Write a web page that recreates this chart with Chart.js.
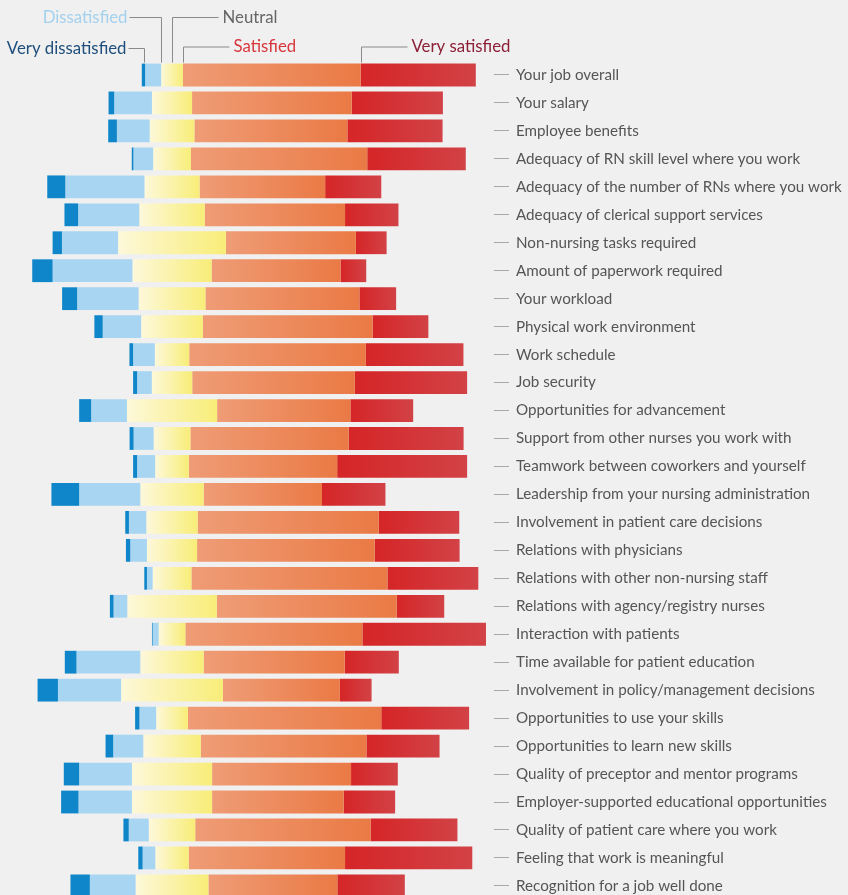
<!DOCTYPE html>
<html lang="en">
<head>
<meta charset="UTF-8">
<title>Nurse job satisfaction</title>
<script src="https://cdn.jsdelivr.net/npm/chart.js"></script>
<style>
    body { margin: 0; background: #f0f0f0; overflow: hidden; }
    #wrap { width: 848px; height: 916px; position: relative; }
</style>
</head>
<body>
<div id="wrap"><canvas id="bar-chart"></canvas></div>

<script>
    var items = [
        'Your job overall', 'Your salary', 'Employee benefits',
        'Adequacy of RN skill level where you work',
        'Adequacy of the number of RNs where you work',
        'Adequacy of clerical support services', 'Non-nursing tasks required',
        'Amount of paperwork required', 'Your workload', 'Physical work environment',
        'Work schedule', 'Job security', 'Opportunities for advancement',
        'Support from other nurses you work with',
        'Teamwork between coworkers and yourself',
        'Leadership from your nursing administration',
        'Involvement in patient care decisions', 'Relations with physicians',
        'Relations with other non-nursing staff', 'Relations with agency/registry nurses',
        'Interaction with patients', 'Time available for patient education',
        'Involvement in policy/management decisions', 'Opportunities to use your skills',
        'Opportunities to learn new skills', 'Quality of preceptor and mentor programs',
        'Employer-supported educational opportunities',
        'Quality of patient care where you work', 'Feeling that work is meaningful',
        'Recognition for a job well done'
    ];

    // percentages per answer
    var veryDissatisfied = [1.0, 1.7, 2.6, 0.5, 5.4, 4.1, 2.8, 6.1, 4.5, 2.5, 1.1, 1.2, 3.6, 1.2, 1.2,
                            8.3, 1.1, 1.3, 0.8, 1.1, 0.2, 3.5, 6.1, 1.3, 2.3, 4.6, 5.2, 1.6, 1.3, 5.8];
    var dissatisfied     = [4.8, 11.3, 9.8, 5.9, 23.7, 18.3, 16.8, 23.9, 18.4, 11.5, 6.5, 4.4, 10.7, 6.0, 5.4,
                            18.3, 5.2, 5.0, 1.7, 4.1, 1.8, 19.1, 18.9, 5.0, 9.0, 15.8, 16.0, 6.0, 3.8, 13.7];
    var neutral          = [6.5, 12.0, 13.4, 11.3, 16.5, 19.6, 32.3, 23.7, 20.0, 18.5, 10.3, 12.1, 27.0, 11.0, 10.1,
                            19.0, 15.4, 15.0, 11.6, 26.8, 8.0, 19.0, 30.5, 9.5, 17.2, 24.0, 24.0, 13.9, 10.0, 21.8];
    var satisfied        = [53.2, 47.8, 45.8, 52.8, 37.6, 42.0, 38.9, 38.6, 46.1, 50.8, 52.9, 48.7, 39.9, 47.4, 44.4,
                            35.4, 54.2, 53.2, 58.7, 53.9, 53.0, 42.2, 35.0, 57.9, 49.6, 41.6, 39.4, 52.5, 46.8, 38.6];
    var verySatisfied    = [34.5, 27.3, 28.5, 29.5, 16.8, 16.0, 9.2, 7.7, 11.0, 16.7, 29.2, 33.6, 18.8, 34.4, 38.9,
                            19.0, 24.1, 25.4, 27.2, 14.2, 37.0, 16.2, 9.5, 26.3, 21.9, 14.0, 15.4, 26.0, 38.1, 20.2];

    var answers = ['Very dissatisfied', 'Dissatisfied', 'Neutral', 'Satisfied', 'Very satisfied'];

    // diverging bars: neutral is split around zero
    function spans() {
        var out = [[], [], [], [], []];
        for (var i = 0; i < items.length; i++) {
            var h = neutral[i] / 2;
            var d0 = -h - dissatisfied[i];
            out[0].push([d0 - veryDissatisfied[i], d0]);
            out[1].push([d0, -h]);
            out[2].push([-h, h]);
            out[3].push([h, h + satisfied[i]]);
            out[4].push([h + satisfied[i], h + satisfied[i] + verySatisfied[i]]);
        }
        return out;
    }

    function grad(c1, c2) {
        return function (c) {
            var chart = c.chart;
            if (!chart.chartArea || !Array.isArray(c.raw)) return c2;
            var xs = chart.scales.x;
            var a = xs.getPixelForValue(c.raw[0]);
            var b = xs.getPixelForValue(c.raw[1]);
            if (b - a < 1) return c2;
            var g = chart.ctx.createLinearGradient(a, 0, b, 0);
            g.addColorStop(0, c1);
            g.addColorStop(1, c2);
            return g;
        };
    }

    var legendPlugin = {
        id: 'answerLegend',
        afterDraw: function (chart) {
            var ctx = chart.ctx;
            var xs = chart.scales.x;
            var s = spans();
            var bar = chart.getDatasetMeta(0).data[0];
            var top = bar.y - bar.height / 2 - 1;
            var px = [
                xs.getPixelForValue((s[0][0][0] + s[0][0][1]) / 2) + 0.5,
                xs.getPixelForValue(s[1][0][1]) - 0.5,
                xs.getPixelForValue(0),
                xs.getPixelForValue(s[3][0][0]) + 0.5,
                xs.getPixelForValue(s[4][0][0]) + 0.5
            ];
            var notes = [
                {x: px[0], y: 48.5, len: -16, color: '#1e4f7c', align: 'right'},
                {x: px[1], y: 17.5, len: -32, color: '#a3d1ee', align: 'right'},
                {x: px[2], y: 17.5, len: 46, color: '#666666', align: 'left'},
                {x: px[3], y: 47, len: 46, color: '#d8363c', align: 'left'},
                {x: px[4], y: 47, len: 46, color: '#8c1f36', align: 'left'}
            ];
            ctx.save();
            ctx.strokeStyle = '#8a8a8a';
            ctx.lineWidth = 1;
            ctx.font = '16.8px Lato';
            ctx.textBaseline = 'middle';
            notes.forEach(function (n, i) {
                var x = Math.round(n.x) + 0.5;
                ctx.beginPath();
                ctx.moveTo(x, top);
                ctx.lineTo(x, n.y);
                ctx.lineTo(x + n.len, n.y);
                ctx.stroke();
                ctx.fillStyle = n.color;
                ctx.textAlign = n.align;
                var tx = n.len < 0 ? x + n.len - 2 : x + n.len + 4;
                ctx.fillText(answers[i], tx, n.y);
            });
            ctx.restore();
        }
    };

    function createBarChart() {
        var s = spans();
        var colors = [
            ['#0f86c9', '#0f86c9'],
            ['#a8d6f2', '#a8d6f2'],
            ['#fdf8da', '#f8ed78'],
            ['#ef9c76', '#ea7a45'],
            ['#d52527', '#d24246']
        ];
        var datasets = answers.map(function (name, k) {
            return {
                label: name,
                data: s[k],
                backgroundColor: grad(colors[k][0], colors[k][1]),
                borderWidth: 0,
                borderSkipped: false,
                grouped: false,
                barPercentage: 0.815,
                categoryPercentage: 1
            };
        });

        var ctx = document.getElementById('bar-chart').getContext('2d');
        new Chart(ctx, {
            type: 'bar',
            data: { labels: items, datasets: datasets },
            options: {
                indexAxis: 'y',
                responsive: true,
                maintainAspectRatio: false,
                animation: false,
                events: [],
                layout: { padding: { top: 61, bottom: 3, left: 0, right: 0 } },
                plugins: {
                    legend: { display: false },
                    tooltip: { enabled: false }
                },
                scales: {
                    x: { display: false, min: -51.5, max: 96.4 },
                    y: {
                        position: 'right',
                        border: { display: false },
                        grid: {
                            offset: false,
                            drawOnChartArea: false,
                            drawTicks: true,
                            tickLength: 15,
                            tickColor: '#a8a8a8',
                            tickWidth: 1
                        },
                        ticks: {
                            padding: 7,
                            color: '#555555',
                            font: { family: 'Lato', size: 15.2 }
                        },
                        afterFit: function (scale) { scale.width = 354; }
                    }
                }
            },
            plugins: [legendPlugin]
        });
    }

    createBarChart();
</script>
</body>
</html>
